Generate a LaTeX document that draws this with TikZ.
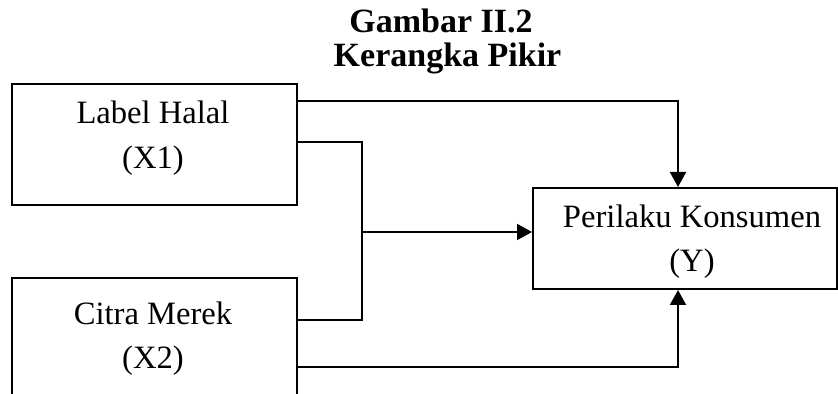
\documentclass[tikz,border=0pt]{standalone}
\usepackage{fontspec}
\setmainfont{Liberation Serif}
\usetikzlibrary{arrows.meta,calc}
\begin{document}
\begin{tikzpicture}[x=0.5pt,y=-0.5pt,
  box/.style={draw,line width=1pt,minimum width=142.5pt,minimum height=60.5pt,inner sep=0pt},
  ybox/.style={draw,line width=1pt,minimum width=152pt,minimum height=50.5pt,inner sep=0pt},
  txt/.style={anchor=base,inner sep=0pt,font=\fontsize{16.3}{20}\selectfont},
  ttl/.style={anchor=base,inner sep=0pt,font=\fontsize{17}{20}\selectfont\bfseries},
  conn/.style={line width=1pt},
  arr/.style={line width=1pt,-{Triangle[length=7.5pt,width=8pt]}}]
\useasboundingbox (0,0) rectangle (838,394);
% title
\node[ttl] (t1) at (441,32.5) {Gambar II.2};
\node[ttl] (t2) at (447.5,66.5) {Kerangka Pikir};
% boxes
\node[box] (x1) at (154.5,144.5) {};
\node[box] (x2) at (154.5,339) {};
\node[ybox] (y) at (685,238.5) {};
% texts
\node[txt] (x1a) at (153,124) {Label Halal};
\node[txt] (x1b) at (153,169) {(X1)};
\node[txt] (x2a) at (153,325) {Citra Merek};
\node[txt] (x2b) at (153,368) {(X2)};
\node[txt] (ya) at (692,228) {Perilaku Konsumen};
\node[txt] (yb) at (692,272) {(Y)};
% connectors
\coordinate (j) at (362,232);
\draw[arr] ($(x1.north east)+(0,18)$) -| ($(y.north)+(-7,0)$);
\draw[conn] ($(x1.north east)+(0,59)$) -| (j) |- ($(x2.north east)+(0,43)$);
\draw[arr] (j) -- (y.west |- j);
\draw[arr] ($(x2.north east)+(0,89)$) -| ($(y.south)+(-7,0)$);
\end{tikzpicture}
\end{document}
